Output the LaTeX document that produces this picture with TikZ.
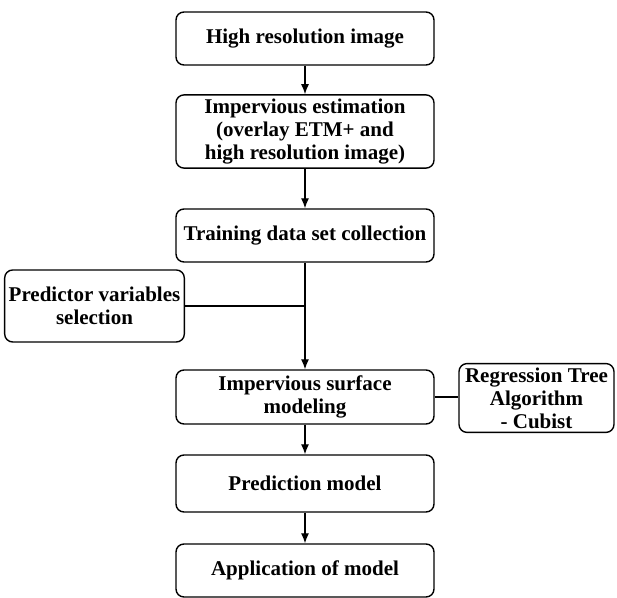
\documentclass[tikz,border=0pt]{standalone}
\usepackage{fontspec}
\setmainfont{Liberation Serif}
\usetikzlibrary{arrows.meta}
\tikzstyle{stage}=[draw, line width=0.7pt, rounded corners=4pt, align=center,
  font=\bfseries\fontsize{10.5}{11.5}\selectfont, inner sep=2pt]
\tikzstyle{flow}=[line width=0.6pt, -{Latex[length=5pt,width=4pt]}]
\tikzstyle{link}=[line width=0.6pt]

\begin{document}
\begin{tikzpicture}[x=0.5pt,y=-0.5pt]
    \useasboundingbox (0,0) rectangle (617,598);
    \node[stage, minimum width=129pt, minimum height=26.5pt] (hri) at (305,38.5) {High resolution image};
    \node[stage, minimum width=129pt, minimum height=32.5pt] (est) at (305,131.5) {Impervious estimation\\(overlay ETM+ and\\high resolution image)};
    \node[stage, minimum width=129pt, minimum height=26.5pt] (train) at (305,235.5) {Training data set collection};
    \node[stage, minimum width=87.5pt, minimum height=36pt] (pred) at (94.5,306) {Predictor variables\\selection};
    \node[stage, minimum width=129pt, minimum height=27pt] (surf) at (305,397) {Impervious surface\\modeling};
    \node[stage, minimum width=77.5pt, minimum height=34pt] (regr) at (536.5,398) {Regression Tree\\Algorithm\\- Cubist};
    \node[stage, minimum width=129pt, minimum height=28.5pt] (model) at (305,483.5) {Prediction model};
    \node[stage, minimum width=129pt, minimum height=26.5pt] (appl) at (305,570.5) {Application of model};
    % connectors
    \draw[flow] (hri) -- (est);
    \draw[flow] (est) -- (train);
    \draw[flow] (train) -- (surf);
    \draw[link] (pred.east) -- (pred.east -| train.south);
    \draw[link] (surf.east) -- (regr.west |- surf.east);
    \draw[flow] (surf) -- (model);
    \draw[flow] (model) -- (appl);
\end{tikzpicture}
\end{document}
